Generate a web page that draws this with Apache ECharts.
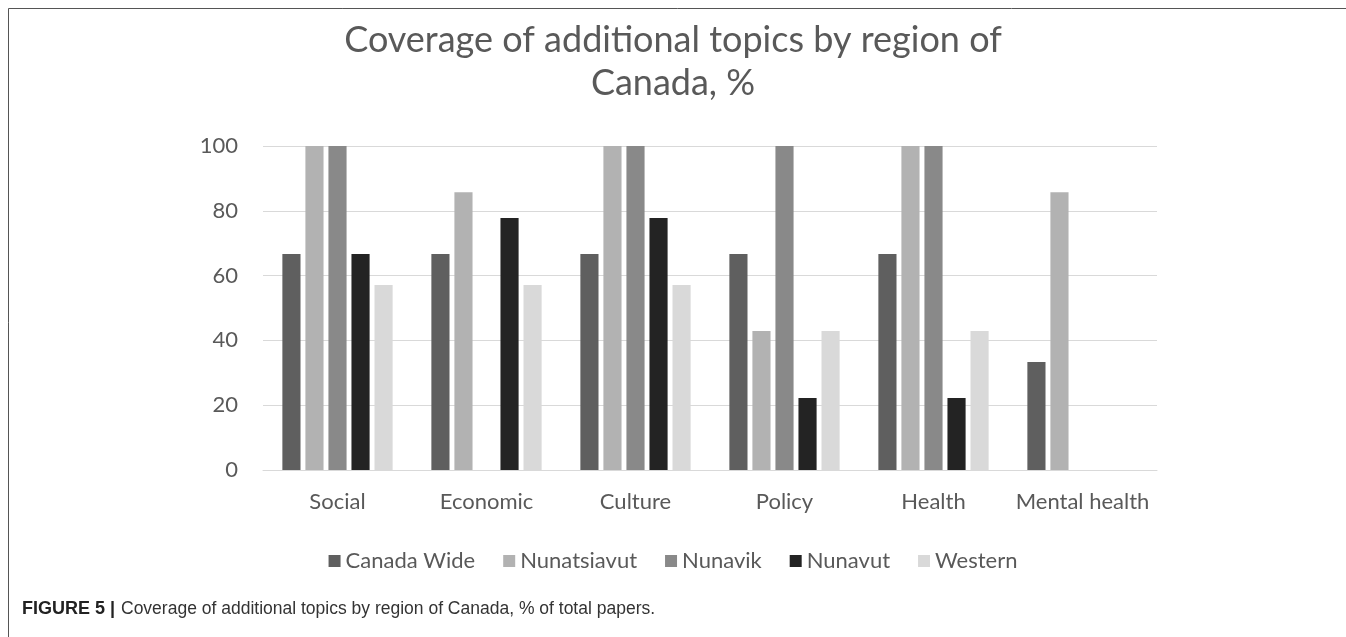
<!DOCTYPE html>
<html>
<head>
<meta charset="utf-8">
<script src="https://cdn.jsdelivr.net/npm/echarts@6/dist/echarts.min.js"></script>
<style>
html,body{margin:0;padding:0;background:#fff;}
#chart{width:1346px;height:637px;}
</style>
</head>
<body>
<div id="chart"></div>
<script>
const categories = ["Social", "Economic", "Culture", "Policy", "Health", "Mental health"];
const seriesNames = ["Canada Wide", "Nunatsiavut", "Nunavik", "Nunavut", "Western"];
const canadaWide = [66.7, 66.7, 66.7, 66.7, 66.7, 33.3];
const nunatsiavut = [100, 85.7, 100, 42.9, 100, 85.7];
const nunavik = [100, 0, 100, 100, 100, 0];
const nunavut = [66.7, 77.8, 77.8, 22.2, 22.2, 0];
const western = [57.1, 57.1, 57.1, 42.9, 42.9, 0];
const yTicks = [0, 20, 40, 60, 80, 100];
const colors = ["#5f5f5f", "#b2b2b2", "#898989", "#232323", "#d9d9d9"];
const titleText = "Coverage of additional topics by region of\nCanada, %";
const captionBold = "FIGURE 5 |";
const captionText = "Coverage of additional topics by region of Canada, % of total papers.";

const allData = [canadaWide, nunatsiavut, nunavik, nunavut, western];
const FONT = "Lato";

const chart = echarts.init(document.getElementById('chart'), null, {renderer: 'canvas'});
const option = {
  backgroundColor: '#ffffff',
  animation: false,
  title: {
    text: titleText,
    left: 'center',
    top: 14,
    textStyle: {fontFamily: FONT, fontSize: 36, fontWeight: 'normal', color: '#595959', lineHeight: 43}
  },
  legend: {
    data: seriesNames,
    top: 545,
    left: 'center',
    itemWidth: 12,
    itemHeight: 12,
    itemGap: 28,
    icon: 'rect',
    textStyle: {fontFamily: FONT, fontSize: 22, color: '#595959'}
  },
  grid: {left: 263, right: 189, top: 146, bottom: 167},
  xAxis: {
    type: 'category',
    data: categories,
    axisLine: {show: true, lineStyle: {color: '#d9d9d9', width: 1}},
    axisTick: {show: false},
    axisLabel: {fontFamily: FONT, fontSize: 22, color: '#595959', margin: 21, interval: 0}
  },
  yAxis: {
    type: 'value',
    min: yTicks[0],
    max: yTicks[yTicks.length - 1],
    interval: 20,
    axisLine: {show: false},
    axisTick: {show: false},
    splitLine: {lineStyle: {color: '#d9d9d9', width: 1}},
    axisLabel: {fontFamily: FONT, fontSize: 22, color: '#595959', margin: 25}
  },
  series: seriesNames.map((name, i) => ({
    name: name,
    type: 'bar',
    data: allData[i],
    barGap: '27%',
    barCategoryGap: '26%',
    itemStyle: {color: colors[i]}
  })),
  graphic: [
    {type: 'line', shape: {x1: 8.5, y1: 8.5, x2: 1346, y2: 8.5}, style: {stroke: '#555555', lineWidth: 1}},
    {type: 'line', shape: {x1: 8.5, y1: 8.5, x2: 8.5, y2: 637}, style: {stroke: '#555555', lineWidth: 1}},
    {type: 'text', left: 22, top: 600, style: {text: captionBold, font: 'bold 18px "Liberation Sans", Arial', fill: '#222222'}},
    {type: 'text', left: 121, top: 600, style: {text: captionText, font: '17.5px "Liberation Sans", Arial', fill: '#333333'}}
  ]
};
chart.setOption(option);
</script>
</body>
</html>
